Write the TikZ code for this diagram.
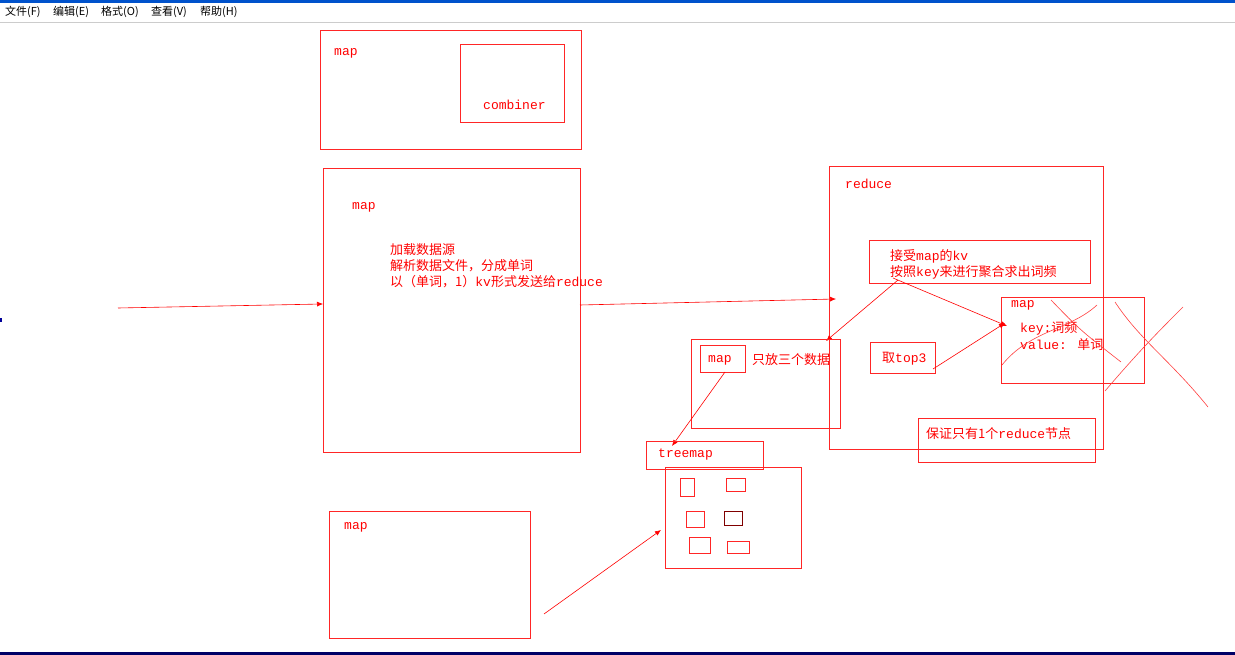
\documentclass[tikz,border=0pt]{standalone}
\usepackage{fontspec}
\usetikzlibrary{arrows.meta}
\setmainfont{Liberation Mono}
\newfontfamily\cjk{Noto Sans CJK SC}
\newcommand{\zh}[1]{{\cjk #1}}
\begin{document}
\begin{tikzpicture}[x=1pt,y=-1pt,
  bx/.style={draw=red!85, line width=0.7pt},
  rt/.style={text=red, font=\fontsize{13}{14}\selectfont, anchor=west, inner sep=0pt},
  ar/.style={draw=red, line width=0.6pt, -{Latex[length=6pt,width=5pt]}},
  sc/.style={draw=red!75, line width=0.6pt},
  mt/.style={font=\cjk\fontsize{11}{12}\selectfont, anchor=west, inner sep=0pt}]
\useasboundingbox (0,0) rectangle (1235,655);
\fill[white] (0,0) rectangle (1235,655);
% window chrome
\fill[blue!60!cyan!80!black] (0,0) rectangle (1235,3);
\draw[gray!40] (0,22) -- (1235,22);
\fill[blue!40!black] (0,652) rectangle (1235,655);
\fill[blue!60!black] (0,318) rectangle (2,322);
\node[mt] (m1) at (5,12) {文件(F)};
\node[mt] (m2) at (53,12) {编辑(E)};
\node[mt] (m3) at (101,12) {格式(O)};
\node[mt] (m4) at (151,12) {查看(V)};
\node[mt] (m5) at (200,12) {帮助(H)};
% map 1
\draw[bx] (320,30) rectangle (581,149);
\node[rt] (t1) at (334,53) {map};
\draw[bx] (460,44) rectangle (564,122);
\node[rt] (t2) at (483,105) {combiner};
% map 2
\draw[bx] (323,168) rectangle (580,452);
\node[rt] (t3) at (352,207) {map};
\node[rt, align=left, anchor=north west, font=\fontsize{13}{16}\selectfont] (t4) at (390,243) {\zh{加载数据源}\\\zh{解析数据文件，分成单词}\\\zh{以（单词，1）}kv\zh{形式发送给}reduce};
\coordinate (in0) at (118,308);
\coordinate (in1) at (323,304);
\draw[ar] (in0) -- (in1);
\coordinate (o0) at (580,305);
\coordinate (o1) at (836,299);
\draw[ar] (o0) -- (o1);
% reduce
\draw[bx] (829,166) rectangle (1103,449);
\node[rt] (t5) at (845,184) {reduce};
\draw[bx] (869,240) rectangle (1090,283);
\node[rt, align=left, anchor=north west, font=\fontsize{13}{16}\selectfont] (t6) at (890,249) {\zh{接受}map\zh{的}kv\\\zh{按照}key\zh{来进行聚合求出词频}};
\draw[bx] (1001,297) rectangle (1144,383);
\node[rt] (t7) at (1011,305) {map};
\node[rt, align=left, anchor=north west, font=\fontsize{13}{17}\selectfont] (t8) at (1020,321) {key:\zh{词频}\\value: \zh{单词}};
\draw[bx] (870,342) rectangle (935,373);
\node[rt] (t9) at (882,359) {\zh{取}top3};
\coordinate (a1) at (893,278); \coordinate (a2) at (1007,326);
\draw[ar] (a1) -- (a2);
\coordinate (a3) at (898,280); \coordinate (a4) at (826,341);
\draw[ar] (a3) -- (a4);
\coordinate (a5) at (933,369); \coordinate (a6) at (1005,323);
\draw[ar] (a5) -- (a6);
\draw[bx] (918,418) rectangle (1095,462);
\node[rt] (t10) at (926,434) {\zh{保证只有1个}reduce\zh{节点}};
% scribbles
\draw[sc] (1002,365) .. controls (1030,330) and (1070,330) .. (1097,305);
\draw[sc] (1051,300) .. controls (1080,330) .. (1121,362);
\draw[sc] (1115,302) .. controls (1140,340) and (1170,360) .. (1208,407);
\draw[sc] (1105,391) .. controls (1140,350) and (1160,330) .. (1183,307);
% map small
\draw[bx] (691,339) rectangle (840,428);
\draw[bx] (700,345) rectangle (745,372);
\node[rt] (t11) at (708,360) {map};
\node[rt] (t12) at (752,360) {\zh{只放三个数据}};
\coordinate (b1) at (725,372); \coordinate (b2) at (672,446);
\draw[ar] (b1) -- (b2);
\draw[bx] (646,441) rectangle (763,469);
\node[rt] (t13) at (658,455) {treemap};
\draw[bx] (665,467) rectangle (801,568);
\draw[bx] (680,478) rectangle (694,496);
\draw[bx] (726,478) rectangle (745,491);
\draw[bx] (686,511) rectangle (704,527);
\draw[draw=red!50!black, line width=0.7pt] (724,511) rectangle (742,525);
\draw[bx] (689,537) rectangle (710,553);
\draw[bx] (727,541) rectangle (749,553);
% map bottom
\draw[bx] (329,511) rectangle (530,638);
\node[rt] (t14) at (344,527) {map};
\coordinate (c1) at (544,614); \coordinate (c2) at (661,530);
\draw[ar] (c1) -- (c2);
\end{tikzpicture}
\end{document}
